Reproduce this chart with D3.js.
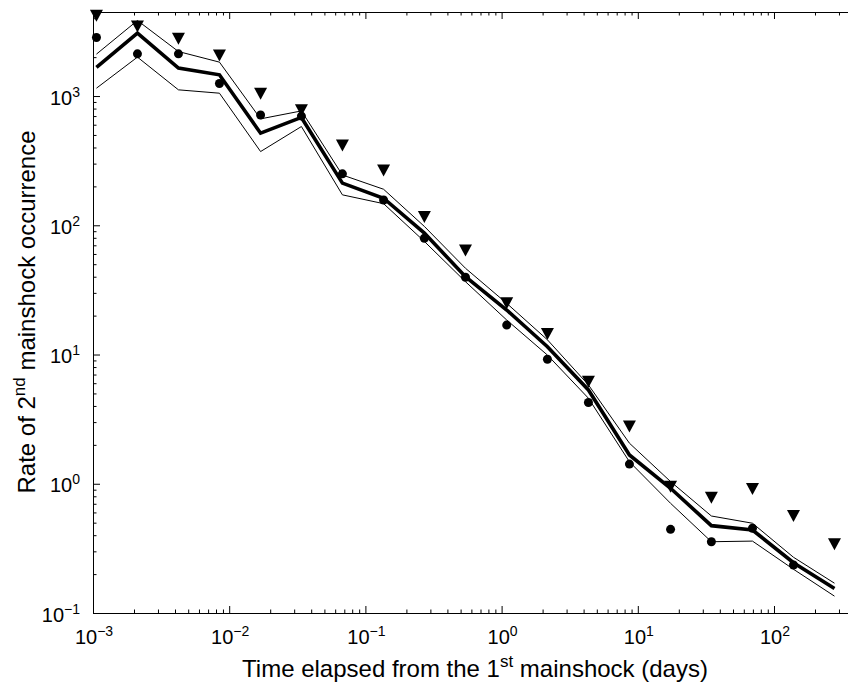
<!DOCTYPE html>
<html>
<head>
<meta charset="utf-8">
<script src="https://cdn.jsdelivr.net/npm/d3@7"></script>
<style>
  body { margin: 0; background: #fff; }
  svg { display: block; font-family: "Liberation Sans", Arial, sans-serif; }
</style>
</head>
<body>
<svg id="chart" width="848" height="686"></svg>
<script>
// elapsed time bins (days)
var days = [0.00106, 0.00212, 0.00424, 0.00848, 0.0170, 0.0339, 0.0678, 0.136, 0.271, 0.543,
            1.09, 2.17, 4.34, 8.68, 17.4, 34.7, 69.5, 139, 278];
// triangles
var triRate = [4180, 3450, 2770, 2055, 1040, 778, 414, 265, 116, 63.7,
               24.9, 14.4, 6.17, 2.77, 0.95, 0.78, 0.912, 0.563, 0.34];
// dots (last bin empty)
var dotRate = [2840, 2120, 2120, 1250, 714, 700, 250, 157, 79.4, 39.6,
               16.9, 9.2, 4.25, 1.42, 0.444, 0.356, 0.453, 0.235, null];
// thick line
var midRate = [1665, 3070, 1645, 1460, 516, 683, 212, 162, 87, 40,
               22.1, 11.5, 5.32, 1.67, 0.923, 0.474, 0.439, 0.245, 0.155];
// thin lines
var upRate = [2110, 3840, 2210, 1830, 666, 767, 245, 190, 98, 46.5,
              24.9, 13, 5.82, 2.06, 1.04, 0.563, 0.495, 0.270, 0.170];
var lowRate = [1150, 2000, 1117, 1052, 372, 581, 172, 147, 75, 36.6,
               18.5, 9.9, 4.59, 1.48, 0.706, 0.356, 0.360, 0.218, 0.135];

var xDecades = [-3, -2, -1, 0, 1, 2];
var yDecades = [-1, 0, 1, 2, 3];

var svg = d3.select("#chart"),
    margin = {top: 12, left: 93},
    plotRight = 856,
    plotBottom = 613;

var x = d3.scaleLog().domain([1e-3, 400]).range([margin.left, plotRight]);
var y = d3.scaleLog().domain([0.1, 4470]).range([plotBottom, margin.top]);

var xMajor = xDecades.map(function(e) { return Math.pow(10, e); });
var yMajor = yDecades.map(function(e) { return Math.pow(10, e); });
var xMinor = x.ticks().filter(function(t) { return xMajor.indexOf(t) < 0 && t > 1e-3 && t < 400; });
var yMinor = y.ticks().filter(function(t) { return yMajor.indexOf(t) < 0 && t > 0.1 && t < 4470; });

function styleAxis(g) {
  g.selectAll("path, line").attr("stroke", "#000").attr("stroke-width", 1);
  g.selectAll("text").remove();
}

// bottom + top
svg.append("g").attr("transform", "translate(0," + plotBottom + ")")
    .call(d3.axisBottom(x).tickValues(xMajor).tickSize(-7).tickSizeOuter(0)).call(styleAxis);
svg.append("g").attr("transform", "translate(0," + plotBottom + ")")
    .call(d3.axisBottom(x).tickValues(xMinor).tickSize(-3.5).tickSizeOuter(0)).call(styleAxis);
svg.append("g").attr("transform", "translate(0," + margin.top + ")")
    .call(d3.axisTop(x).tickValues(xMajor).tickSize(-7).tickSizeOuter(0)).call(styleAxis);
svg.append("g").attr("transform", "translate(0," + margin.top + ")")
    .call(d3.axisTop(x).tickValues(xMinor).tickSize(-3.5).tickSizeOuter(0)).call(styleAxis);
// left
svg.append("g").attr("transform", "translate(" + margin.left + ",0)")
    .call(d3.axisLeft(y).tickValues(yMajor).tickSize(-7).tickSizeOuter(0)).call(styleAxis);
svg.append("g").attr("transform", "translate(" + margin.left + ",0)")
    .call(d3.axisLeft(y).tickValues(yMinor).tickSize(-3.5).tickSizeOuter(0)).call(styleAxis);

// tick labels 10^n
function powLabel(sel, e) {
  sel.append("tspan").attr("font-size", 20).text("10");
  sel.append("tspan").attr("font-size", 14).attr("dy", -8).text(e < 0 ? "\u2212" + (-e) : e);
}
xDecades.forEach(function(e) {
  svg.append("text")
      .attr("x", x(Math.pow(10, e)) + 1)
      .attr("y", 644)
      .attr("text-anchor", "middle")
      .call(powLabel, e);
});
yDecades.forEach(function(e) {
  svg.append("text")
      .attr("x", 80)
      .attr("y", y(Math.pow(10, e)) + 8.5)
      .attr("text-anchor", "end")
      .call(powLabel, e);
});

// axis titles
var xt = svg.append("text").attr("x", 475).attr("y", 677)
    .attr("text-anchor", "middle").attr("font-size", 24);
xt.append("tspan").text("Time elapsed from the 1");
xt.append("tspan").attr("font-size", 17).attr("dy", -10).text("st");
xt.append("tspan").attr("dy", 10).text(" mainshock (days)");

var yt = svg.append("text").attr("transform", "translate(35,312) rotate(-90)")
    .attr("text-anchor", "middle").attr("font-size", 24);
yt.append("tspan").text("Rate of 2");
yt.append("tspan").attr("font-size", 17).attr("dy", -10).text("nd");
yt.append("tspan").attr("dy", 10).text(" mainshock occurrence");

// lines
function rateLine(vals) {
  return d3.line()
      .defined(function(d, i) { return vals[i] != null; })
      .x(function(d) { return x(d); })
      .y(function(d, i) { return y(vals[i]); })(days);
}
[upRate, lowRate].forEach(function(vals) {
  svg.append("path")
      .attr("d", rateLine(vals))
      .attr("fill", "none")
      .attr("stroke", "#000")
      .attr("stroke-width", 1);
});
svg.append("path")
    .attr("d", rateLine(midRate))
    .attr("fill", "none")
    .attr("stroke", "#000")
    .attr("stroke-width", 3.6);

// markers
svg.append("g").selectAll("circle")
    .data(days.filter(function(d, i) { return dotRate[i] != null; }))
    .enter().append("circle")
    .attr("cx", function(d) { return x(d); })
    .attr("cy", function(d) { return y(dotRate[days.indexOf(d)]); })
    .attr("r", 4.5)
    .attr("fill", "#000");

svg.append("g").selectAll("path")
    .data(days)
    .enter().append("path")
    .attr("d", "M-6.5,-6L6.5,-6L0,6Z")
    .attr("transform", function(d, i) { return "translate(" + x(d) + "," + y(triRate[i]) + ")"; })
    .attr("fill", "#000");
</script>
</body>
</html>
